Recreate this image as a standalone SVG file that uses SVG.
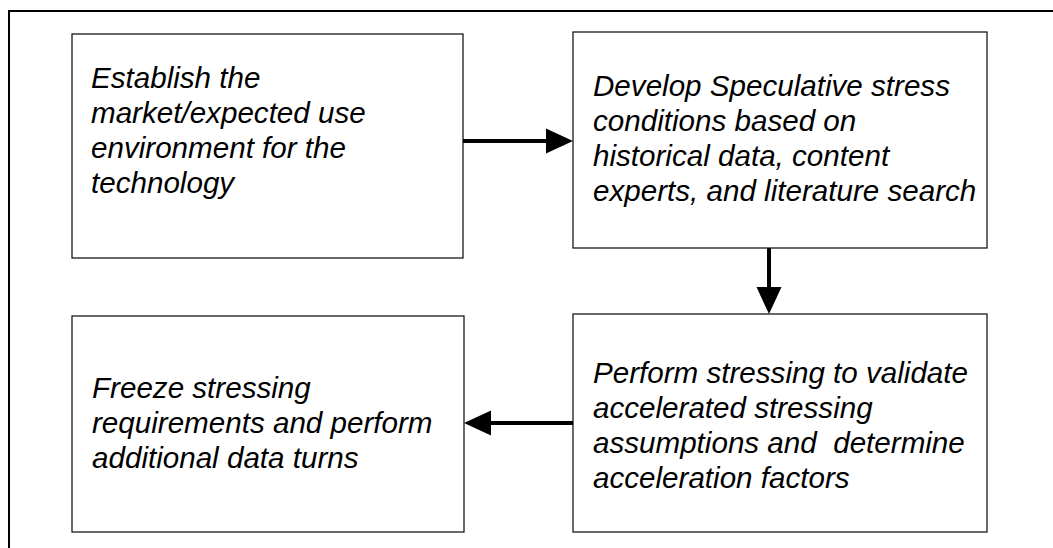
<svg xmlns="http://www.w3.org/2000/svg" width="1053" height="548" viewBox="0 0 1053 548">
<style>
.frame{fill:none;stroke:#000;stroke-width:2}
.box{fill:#fff;stroke:#1a1a1a;stroke-width:1.3}
.lbl{font-family:"Liberation Sans",Arial,sans-serif;font-style:italic;font-size:29.6px;fill:#000;white-space:pre}
.conn{stroke:#000;stroke-width:4;fill:none;marker-end:url(#ah)}
</style>
<defs>
<marker id="ah" markerUnits="userSpaceOnUse" markerWidth="27" markerHeight="26" refX="0" refY="12.5" orient="auto" viewBox="0 0 27 25">
<path d="M0,0 L27,12.5 L0,25 z" fill="#000"/>
</marker>
</defs>
<rect width="1053" height="548" fill="#fff"/>
<path class="frame" d="M9,560 L9,11 L1060,11"/>
<g id="n1">
<rect class="box" x="72" y="34" width="391" height="224"/>
<text class="lbl"><tspan x="91" y="88">Establish the</tspan><tspan x="91" y="123">market/expected use</tspan><tspan x="91" y="158">environment for the</tspan><tspan x="91" y="193">technology</tspan></text>
</g>
<g id="n2">
<rect class="box" x="573" y="32" width="414" height="216"/>
<text class="lbl"><tspan x="593" y="96">Develop Speculative stress</tspan><tspan x="593" y="131">conditions based on</tspan><tspan x="593" y="166">historical data, content</tspan><tspan x="593" y="201">experts, and literature search</tspan></text>
</g>
<g id="n3">
<rect class="box" x="72" y="316" width="392" height="216"/>
<text class="lbl"><tspan x="92" y="398">Freeze stressing</tspan><tspan x="92" y="433">requirements and perform</tspan><tspan x="92" y="468">additional data turns</tspan></text>
</g>
<g id="n4">
<rect class="box" x="573" y="314" width="414" height="218"/>
<text class="lbl"><tspan x="593" y="383">Perform stressing to validate</tspan><tspan x="593" y="418">accelerated stressing</tspan><tspan x="593" y="453">assumptions and  determine</tspan><tspan x="593" y="488">acceleration factors</tspan></text>
</g>
<g id="connectors">
<line class="conn" x1="463" y1="141" x2="546" y2="141"/>
<line class="conn" x1="769" y1="248" x2="769" y2="287"/>
<line class="conn" x1="573" y1="423" x2="491" y2="423"/>
</g>
</svg>
